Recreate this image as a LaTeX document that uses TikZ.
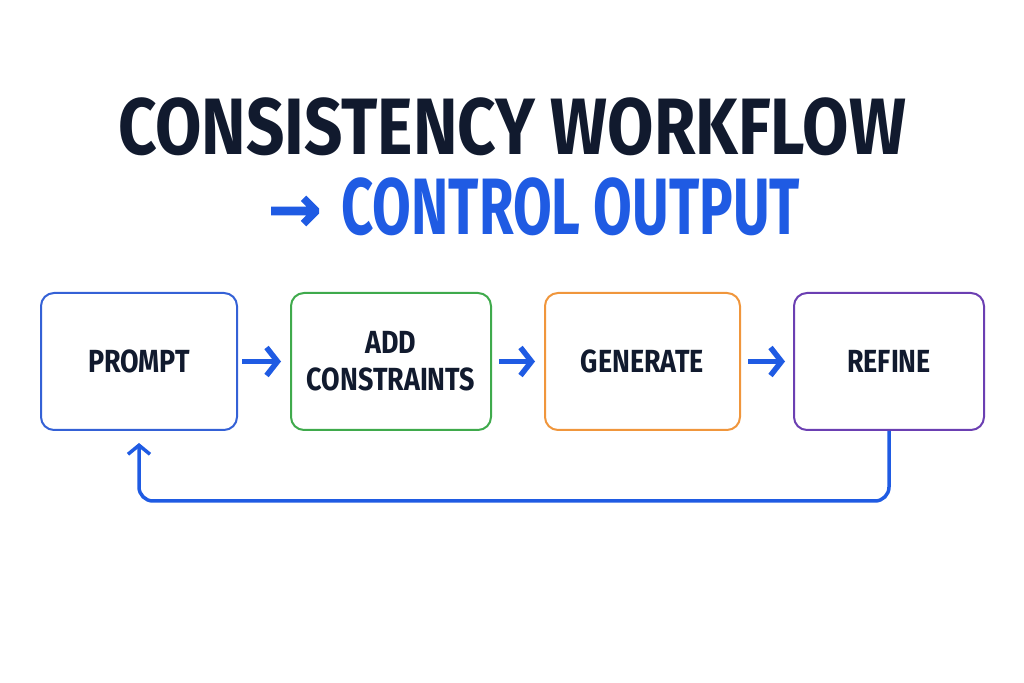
\documentclass[tikz,border=0pt]{standalone}
\usepackage{fontspec}
\setmainfont{Fira Sans}[FakeStretch=0.84]
\newfontfamily\arrowfont{DejaVu Sans}[FakeBold=2]
\usetikzlibrary{arrows.meta, positioning}
\definecolor{ink}{HTML}{111A2E}
\definecolor{flow}{HTML}{1F5BE3}
\definecolor{cblue}{HTML}{3461D6}
\definecolor{cgreen}{HTML}{3FAA4C}
\definecolor{corange}{HTML}{F0963C}
\definecolor{cpurple}{HTML}{6B3FB2}

\begin{document}
\begin{tikzpicture}[
  x=1pt, y=1pt,
  node distance=52pt,
  stage/.style={draw, line width=2pt, rounded corners=13pt, fill=white,
                minimum width=196pt, minimum height=137pt,
                font=\fontsize{32}{37}\selectfont\bfseries, text=ink, align=center},
  arr/.style={-{Straight Barb[length=11pt, width=28pt]}, line width=5.5pt, color=flow},
  back/.style={-{Straight Barb[length=9pt, width=22pt]}, line width=3.5pt, color=flow,
               rounded corners=14pt}
]
  \useasboundingbox (0,0) rectangle (1024,682);

  % Title
  \node[anchor=base, text=ink, font=\fontsize{80}{90}\selectfont\bfseries]
    (title) at (512,527) {CONSISTENCY WORKFLOW};
  \node[anchor=base, text=flow, font=\fontsize{80}{90}\selectfont\bfseries]
    (subtitle) at (534,447)
    {\raisebox{4pt}{\arrowfont\bfseries\fontsize{64}{64}\selectfont →}\hspace{20pt}\scalebox{0.835}[1]{CONTROL OUTPUT}};

  % Steps
  \node[stage, draw=cblue] (prompt) at (139,320.5) {PROMPT};
  \node[stage, draw=cgreen, minimum width=200pt, right=of prompt] (constr) {ADD\\CONSTRAINTS};
  \node[stage, draw=corange, minimum width=195pt, right=of constr] (gen) {GENERATE};
  \node[stage, draw=cpurple, minimum width=190pt, right=of gen] (refine) {REFINE};

  % Arrows between steps
  \draw[arr] ([xshift=4pt]prompt.east) -- ([xshift=-9pt]constr.west);
  \draw[arr] ([xshift=7pt]constr.east) -- ([xshift=-9pt]gen.west);
  \draw[arr] ([xshift=7pt]gen.east) -- ([xshift=-8pt]refine.west);

  % Loop back
  \draw[back] (refine.south) -- ++(0,-70) -| ([yshift=-12pt]prompt.south);
\end{tikzpicture}
\end{document}
